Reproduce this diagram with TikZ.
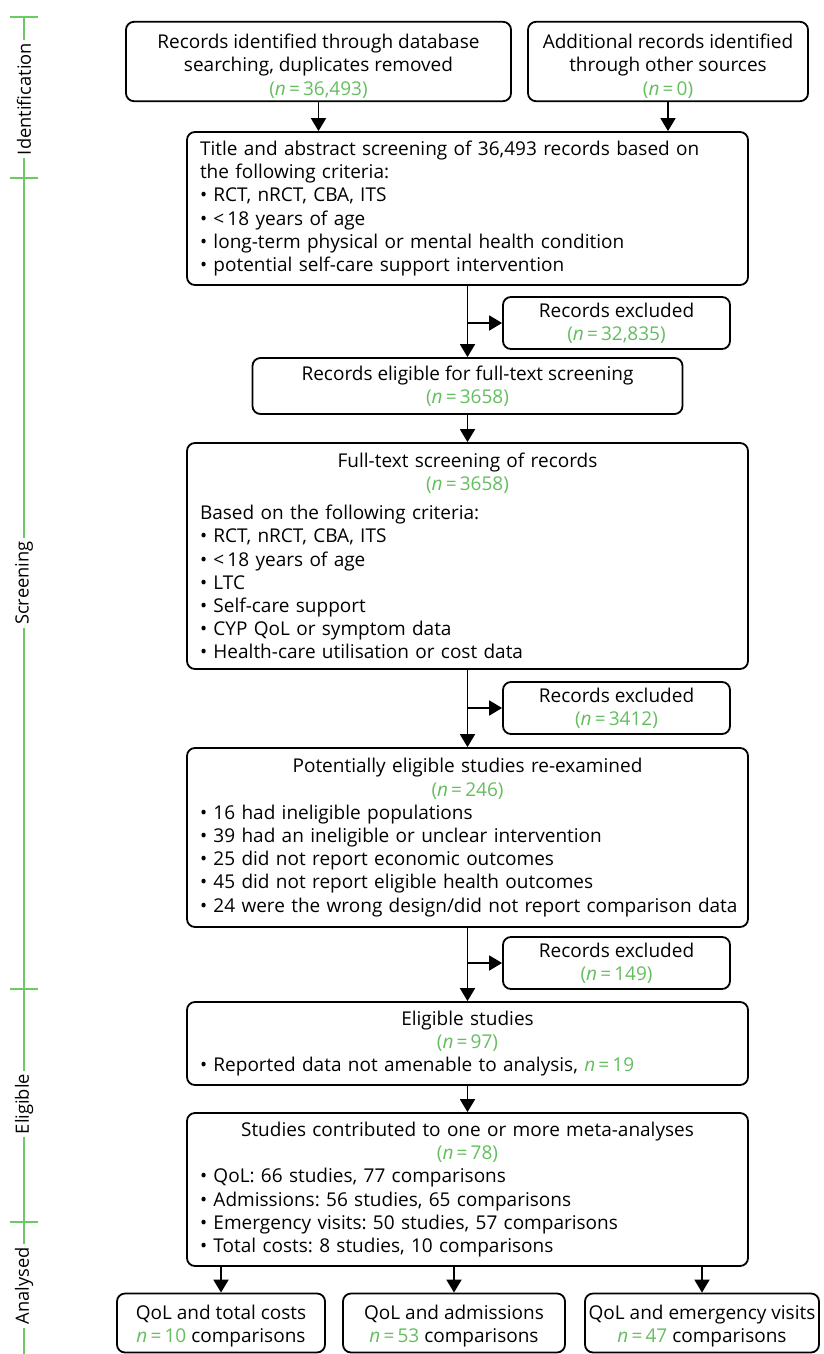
\documentclass[tikz,border=0pt]{standalone}
\usepackage{fontspec}
\setmainfont{Open Sans}
\usetikzlibrary{arrows.meta}
\definecolor{ngreen}{RGB}{100,190,95}
\definecolor{lgreen}{RGB}{110,200,100}
\newcommand{\nv}[1]{\textcolor{ngreen}{\textit{n}\,=\,#1}}
\newcommand{\pv}[1]{\textcolor{ngreen}{(\textit{n}\,=\,#1)}}
\newcommand{\bul}{\textbullet\ }
\newcommand{\mainfs}{\fontsize{19}{23.2}\selectfont\frenchspacing}
\newcommand{\phasefs}{\fontsize{18.3}{22}\selectfont}
\newcommand{\lowerfirst}{\rule{0pt}{24pt}}
\frenchspacing
\begin{document}
\begin{tikzpicture}[x=1pt,y=-1pt,
  box/.style={draw, line width=1.8pt, rounded corners=8pt, inner xsep=13pt, inner ysep=3pt, font=\mainfs},
  cbox/.style={box, align=center, inner xsep=3pt},
  big/.style={box, align=left, text width=535pt},
  excl/.style={cbox, minimum width=227pt, minimum height=52pt},
  arr/.style={line width=1.8pt, -{Triangle[width=15pt,length=13pt]}},
  gline/.style={lgreen, line width=1.6pt},
  phase/.style={rotate=90, fill=white, inner xsep=3pt, inner ysep=0pt, font=\phasefs}]
\useasboundingbox (0,0) rectangle (824,1354);

% side bar
\coordinate (t1) at (24,17);
\coordinate (t2) at (24,178);
\coordinate (t3) at (24,989);
\coordinate (t4) at (24,1222);
\coordinate (tend) at (24,1354);
\draw[gline] (t1) -- (tend);
\foreach \t in {t1,t2,t3,t4} \draw[gline] (\t) ++(-14,0) -- ++(28,0);
\node[phase] (pI) at (24,99) {Identification};
\node[phase] (pS) at (24,583) {Screening};
\node[phase] (pE) at (24,1104) {Eligible};
\node[phase] (pA) at (24,1286) {Analysed};

% boxes
\node[cbox, minimum width=385pt, minimum height=79pt] (b1) at (318.5,61.5)
  {\lowerfirst Records identified through database\\searching, duplicates removed\\\pv{36,493}};
\node[cbox, minimum width=280pt, minimum height=79pt] (b2) at (668,61.5)
  {\lowerfirst Additional records identified\\through other sources\\\pv{0}};
\node[big, minimum height=153pt] (b3) at (467.5,208.5)
  {Title and abstract screening of 36,493 records based on\\the following criteria:\\
   \bul RCT, nRCT, CBA, ITS\\
   \bul <\,18 years of age\\
   \bul long-term physical or mental health condition\\
   \bul potential self-care support intervention};
\node[excl] (e1) at (616.5,323) {Records excluded\\\pv{32,835}};
\node[cbox, minimum width=430pt, minimum height=56pt] (b4) at (467.5,386)
  {Records eligible for full-text screening\\\pv{3658}};
\node[big, minimum height=226pt] (b5) at (467.5,556)
  {{\centering Full-text screening of records\\\pv{3658}\par}\vskip6pt
   Based on the following criteria:\\
   \bul RCT, nRCT, CBA, ITS\\
   \bul <\,18 years of age\\
   \bul LTC\\
   \bul Self-care support\\
   \bul CYP QoL or symptom data\\
   \bul Health-care utilisation or cost data};
\node[excl] (e2) at (616.5,708) {Records excluded\\\pv{3412}};
\node[big, minimum height=179pt] (b6) at (467.5,837.5)
  {{\centering Potentially eligible studies re-examined\\\pv{246}\par}
   \bul 16 had ineligible populations\\
   \bul 39 had an ineligible or unclear intervention\\
   \bul 25 did not report economic outcomes\\
   \bul 45 did not report eligible health outcomes\\
   \mbox{\bul 24 were the wrong design/did not report comparison data}};
\node[excl] (e3) at (616.5,963) {Records excluded\\\pv{149}};
\node[big, minimum height=83pt] (b7) at (467.5,1043.5)
  {{\centering Eligible studies\\\pv{97}\par}
   \bul Reported data not amenable to analysis, \nv{19}};
\node[big, minimum height=153pt] (b8) at (467.5,1189.5)
  {{\centering Studies contributed to one or more meta-analyses\\\pv{78}\par}
   \bul QoL: 66 studies, 77 comparisons\\
   \bul Admissions: 56 studies, 65 comparisons\\
   \bul Emergency visits: 50 studies, 57 comparisons\\
   \bul Total costs: 8 studies, 10 comparisons};
\node[cbox, minimum width=208pt, minimum height=59pt] (c1) at (221,1323)
  {\rule{0pt}{20pt}QoL and total costs\\\nv{10} comparisons};
\node[cbox, minimum width=222pt, minimum height=59pt] (c2) at (454,1323)
  {\rule{0pt}{20pt}QoL and admissions\\\nv{53} comparisons};
\node[cbox, minimum width=234pt, minimum height=59pt] (c3) at (702,1323)
  {\rule{0pt}{20pt}QoL and emergency visits\\\nv{47} comparisons};

% connectors
\draw[arr] (b1.south) -- (b1.south |- b3.north);
\draw[arr] (b2.south) -- (b2.south |- b3.north);
\draw[arr] (b3.south) -- (b4.north);
\draw[arr] (b3.south |- e1.west) -- (e1.west);
\draw[arr] (b4.south) -- (b5.north);
\draw[arr] (b5.south) -- (b6.north);
\draw[arr] (b5.south |- e2.west) -- (e2.west);
\draw[arr] (b6.south) -- (b7.north);
\draw[arr] (b6.south |- e3.west) -- (e3.west);
\draw[arr] (b7.south) -- (b8.north);
\draw[arr] (c1.north |- b8.south) -- (c1.north);
\draw[arr] (c2.north |- b8.south) -- (c2.north);
\draw[arr] (c3.north |- b8.south) -- (c3.north);
\end{tikzpicture}
\end{document}
